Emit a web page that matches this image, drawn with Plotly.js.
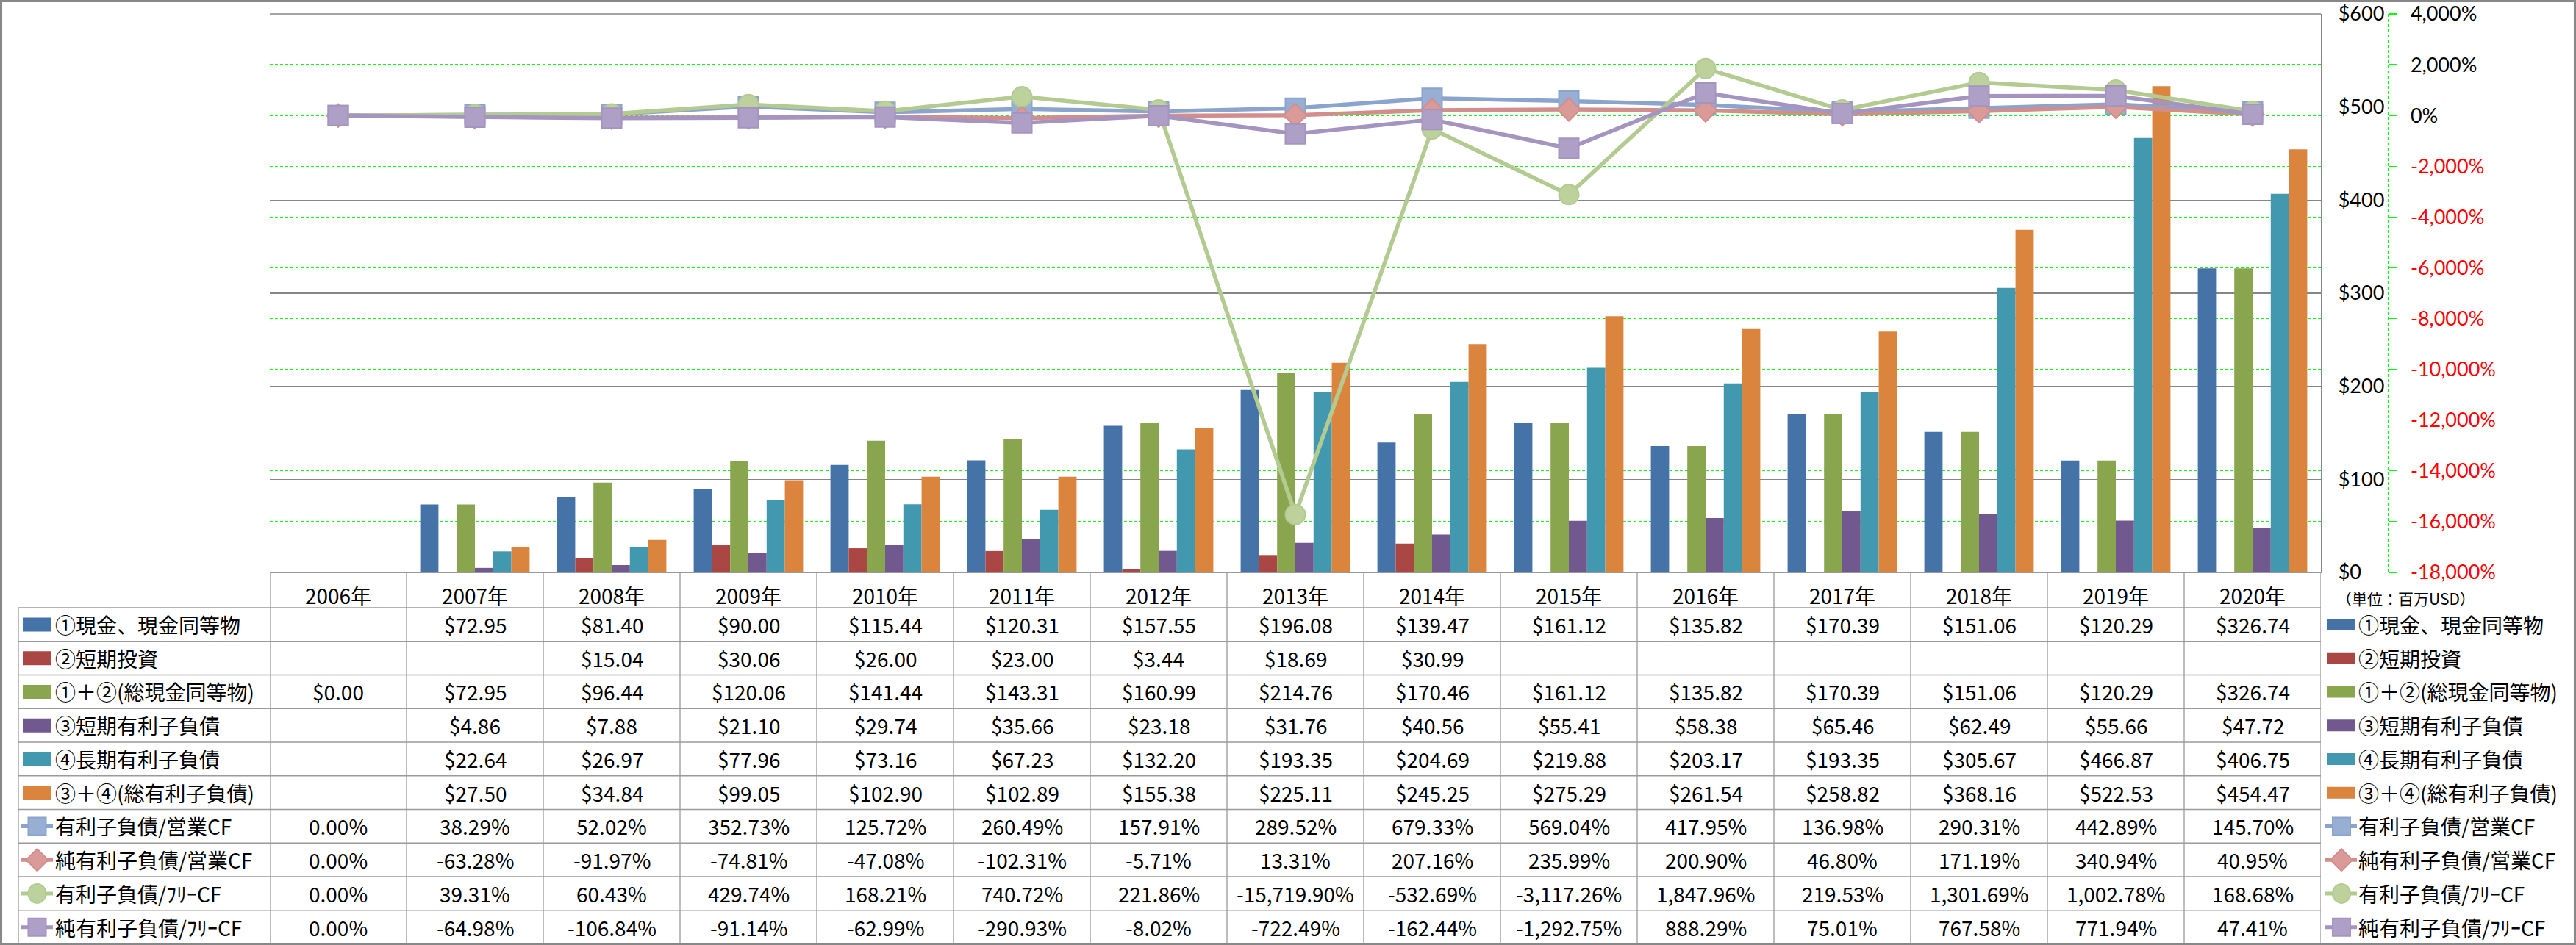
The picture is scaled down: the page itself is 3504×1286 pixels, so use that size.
<!DOCTYPE html>
<html><head><meta charset="utf-8">
<script src="https://cdn.plot.ly/plotly-3.0.1.min.js"></script>
<style>html,body{margin:0;padding:0;background:#fff;}#chart{width:3504px;height:1286px;}</style>
</head><body><div id="chart"></div>
<script>
// ---------- data ----------
const years = ['2006年','2007年','2008年','2009年','2010年','2011年','2012年','2013年','2014年','2015年','2016年','2017年','2018年','2019年','2020年'];
const cash      = [null,72.95,81.40,90.00,115.44,120.31,157.55,196.08,139.47,161.12,135.82,170.39,151.06,120.29,326.74];
const stInvest  = [null,null,15.04,30.06,26.00,23.00,3.44,18.69,30.99,null,null,null,null,null,null];
const totalCash = [0.00,72.95,96.44,120.06,141.44,143.31,160.99,214.76,170.46,161.12,135.82,170.39,151.06,120.29,326.74];
const stDebt    = [null,4.86,7.88,21.10,29.74,35.66,23.18,31.76,40.56,55.41,58.38,65.46,62.49,55.66,47.72];
const ltDebt    = [null,22.64,26.97,77.96,73.16,67.23,132.20,193.35,204.69,219.88,203.17,193.35,305.67,466.87,406.75];
const totalDebt = [null,27.50,34.84,99.05,102.90,102.89,155.38,225.11,245.25,275.29,261.54,258.82,368.16,522.53,454.47];
const debtOpCF     = [0.00,38.29,52.02,352.73,125.72,260.49,157.91,289.52,679.33,569.04,417.95,136.98,290.31,442.89,145.70];
const netDebtOpCF  = [0.00,-63.28,-91.97,-74.81,-47.08,-102.31,-5.71,13.31,207.16,235.99,200.90,46.80,171.19,340.94,40.95];
const debtFCF      = [0.00,39.31,60.43,429.74,168.21,740.72,221.86,-15719.90,-532.69,-3117.26,1847.96,219.53,1301.69,1002.78,168.68];
const netDebtFCF   = [0.00,-64.98,-106.84,-91.14,-62.99,-290.93,-8.02,-722.49,-162.44,-1292.75,888.29,75.01,767.58,771.94,47.41];
const barNames  = ['①現金、現金同等物','②短期投資','①＋②(総現金同等物)','③短期有利子負債','④長期有利子負債','③＋④(総有利子負債)'];
const lineNames = ['有利子負債/営業CF','純有利子負債/営業CF','有利子負債/ﾌﾘｰCF','純有利子負債/ﾌﾘｰCF'];
const usdTicks = [0,100,200,300,400,500,600];
const pctTicks = [4000,2000,0,-2000,-4000,-6000,-8000,-10000,-12000,-14000,-16000,-18000];
const unitLabel = '（単位：百万USD）';

// ---------- styling ----------
const barSeries = [cash, stInvest, totalCash, stDebt, ltDebt, totalDebt];
const lineSeries = [debtOpCF, netDebtOpCF, debtFCF, netDebtFCF];
const barColors = ['#4572A7','#AA4643','#89A54E','#71588F','#4198AF','#DB843D'];
const lineColors = ['#8BA4CD','#D28E8C','#B3CB91','#A594C0'];
const markerFill = ['#98AED3','#D99A98','#BCD19C','#AE9FC7'];
const symbols = ['square','diamond','circle','square'];
const msize = [27,24,27,27];
const FONT = '"Noto Sans CJK JP","Noto Sans",sans-serif';
const AXFONT = 'Lato,"Noto Sans CJK JP",sans-serif';
const FS = 28;

const W=3504, H=1286;
const plotL=367, plotR=3157, plotT=19, plotB=779;
const hdrB=827, rowH=45.75, nRows=10;
const X = px => px/W;
const Y = py => 1 - py/H;
const rowC = j => hdrB + rowH*(j+0.5);

const money = v => v==null ? '' : '$' + v.toLocaleString('en-US',{minimumFractionDigits:2,maximumFractionDigits:2});
const pct = v => v==null ? '' : v.toLocaleString('en-US',{minimumFractionDigits:2,maximumFractionDigits:2}) + '%';

// ---------- traces ----------
const traces = [];
barSeries.forEach((s,i)=>traces.push({
  type:'bar', x:years, y:s, name:barNames[i], yaxis:'y',
  marker:{color:barColors[i], line:{width:0}}, hoverinfo:'skip', showlegend:false
}));
lineSeries.forEach((s,i)=>traces.push({
  type:'scatter', mode:'lines+markers', x:years, y:s, name:lineNames[i], yaxis:'y2',
  line:{color:lineColors[i], width:5.5},
  marker:{symbol:symbols[i], size:msize[i], color:markerFill[i], line:{color:lineColors[i], width:2}},
  hoverinfo:'skip', showlegend:false, cliponaxis:false
}));

// ---------- table grid / shapes ----------
const shapes = [];
const gray = '#9A9A9A';
// plot-area top border (gridline at the range end is not drawn by plotly)
shapes.push({type:'line', xref:'paper', yref:'paper', x0:X(plotL), x1:X(plotR), y0:Y(plotT), y1:Y(plotT), line:{color:'#868686',width:1.3}, layer:'below'});
for (let j=0;j<=nRows;j++){
  const y = hdrB + rowH*j;
  shapes.push({type:'line', xref:'paper', yref:'paper', x0:X(25), x1:X(plotR), y0:Y(y), y1:Y(y), line:{color:gray,width:1.3}});
}
for (let k=0;k<=years.length;k++){
  shapes.push({type:'line', xref:'x', yref:'paper', x0:k-0.5, x1:k-0.5, y0:Y(plotB), y1:Y(hdrB+rowH*nRows), line:{color:gray,width:1.3}});
}
shapes.push({type:'line', xref:'paper', yref:'paper', x0:X(25), x1:X(25), y0:Y(hdrB), y1:Y(hdrB+rowH*nRows), line:{color:gray,width:1.3}});
// secondary axis dashed line
shapes.push({type:'line', xref:'paper', yref:'paper', x0:X(3248.5), x1:X(3248.5), y0:Y(plotT), y1:Y(plotB), line:{color:'#00FF00',width:1.2,dash:'4px,3px'}});
// outer border
shapes.push({type:'rect', xref:'paper', yref:'paper', x0:X(1.5), x1:X(3502.5), y0:Y(1.5), y1:Y(1284.5), line:{color:'#888888',width:3}, fillcolor:'rgba(0,0,0,0)'});

// legend keys (left table and right legend)
function keyShapes(j, isBar, idx, side){
  const cy = rowC(j);
  if (isBar){
    const x0 = side==='L'?31:3165, x1 = side==='L'?70:3203, hh = side==='L'?9.5:8;
    shapes.push({type:'rect', xref:'paper', yref:'paper', x0:X(x0), x1:X(x1), y0:Y(cy-hh), y1:Y(cy+hh), line:{width:0}, fillcolor:barColors[idx]});
  } else {
    const x0 = side==='L'?28:3163, x1 = side==='L'?72:3206, cx = side==='L'?50.5:3185;
    shapes.push({type:'line', xref:'paper', yref:'paper', x0:X(x0), x1:X(x1), y0:Y(cy), y1:Y(cy), line:{color:lineColors[idx],width:5}});
    const r = 12;
    const mk = {xref:'paper', yref:'paper', fillcolor:markerFill[idx], line:{color:lineColors[idx],width:2}};
    if (symbols[idx]==='square') shapes.push(Object.assign({type:'rect', x0:X(cx-r), x1:X(cx+r), y0:Y(cy-r), y1:Y(cy+r)}, mk));
    else if (symbols[idx]==='circle') shapes.push(Object.assign({type:'circle', x0:X(cx-r), x1:X(cx+r), y0:Y(cy-r-1), y1:Y(cy+r+1)}, mk));
    else { const d=15; shapes.push(Object.assign({type:'path', path:`M ${X(cx)},${Y(cy-d)} L ${X(cx+d)},${Y(cy)} L ${X(cx)},${Y(cy+d)} L ${X(cx-d)},${Y(cy)} Z`}, mk)); }
  }
}

// ---------- annotations ----------
const annotations = [];
const allNames = barNames.concat(lineNames);
const rowsText = barSeries.map(s=>s.map(money)).concat(lineSeries.map(s=>s.map(pct)));
rowsText.forEach((row,j)=>{
  row.forEach((t,i)=>{
    if (t==='') return;
    annotations.push({xref:'x', yref:'paper', x:years[i], y:Y(rowC(j)), text:t, showarrow:false, xanchor:'center', yanchor:'middle', font:{family:FONT,size:FS,color:'#000'}});
  });
});
allNames.forEach((n,j)=>{
  const isBar = j<barNames.length, idx = isBar?j:j-barNames.length;
  keyShapes(j,isBar,idx,'L');
  keyShapes(j,isBar,idx,'R');
  annotations.push({xref:'paper', yref:'paper', x:X(73), y:Y(rowC(j)), text:n, showarrow:false, xanchor:'left', yanchor:'middle', font:{family:FONT,size:FS,color:'#000'}});
  annotations.push({xref:'paper', yref:'paper', x:X(3206), y:Y(rowC(j)), text:n, showarrow:false, xanchor:'left', yanchor:'middle', font:{family:FONT,size:FS,color:'#000'}});
});
annotations.push({xref:'paper', yref:'paper', x:X(3176), y:Y(814), text:unitLabel, showarrow:false, xanchor:'left', yanchor:'middle', font:{family:FONT,size:21,color:'#000'}});

const usdText = usdTicks.map(v=>'$' + v.toLocaleString('en-US'));
const pctText = pctTicks.map(v=>{
  const s = v.toLocaleString('en-US') + '%';
  return v<0 ? `<span style="fill:#FF0000">${s}</span>` : s;
});

const layout = {
  width:W, height:H, margin:{l:0,r:0,t:0,b:0},
  paper_bgcolor:'#FFFFFF', plot_bgcolor:'rgba(0,0,0,0)',
  font:{family:FONT, size:FS, color:'#000'},
  barmode:'group', bargap:0.2, bargroupgap:0, showlegend:false,
  xaxis:{domain:[X(plotL),X(plotR)], type:'category', range:[-0.5,years.length-0.5], showline:true, linecolor:gray, linewidth:1.3,
         ticks:'', showgrid:false, zeroline:false, tickfont:{family:FONT,size:FS,color:'#000'}, ticklabelstandoff:8, fixedrange:true},
  yaxis:{domain:[Y(plotB),Y(plotT)], side:'right', anchor:'x', range:[0,600], tickmode:'array', tickvals:usdTicks, ticktext:usdText,
         ticklabeloverflow:'allow',
         showline:true, linecolor:'#868686', linewidth:1.3, showgrid:true, gridcolor:'#868686', gridwidth:1.3, zeroline:false,
         ticks:'', ticklabelstandoff:17, tickfont:{family:AXFONT,size:27,color:'#000'}, fixedrange:true},
  yaxis2:{overlaying:'y', side:'right', anchor:'free', position:X(3248.5), range:[-18000,4000], tickmode:'array', tickvals:pctTicks, ticktext:pctText,
          ticklabeloverflow:'allow',
          showgrid:true, gridcolor:'#00FF00', gridwidth:1.2, griddash:'4px,3px', zeroline:false, showline:false,
          ticks:'outside', ticklen:10, tickcolor:'#00FF00', tickwidth:1.2, ticklabelstandoff:14,
          tickfont:{family:AXFONT,size:27,color:'#000'}, fixedrange:true},
  shapes:shapes, annotations:annotations
};

Plotly.newPlot('chart', traces, layout, {displayModeBar:false, staticPlot:true});
</script>
</body></html>
